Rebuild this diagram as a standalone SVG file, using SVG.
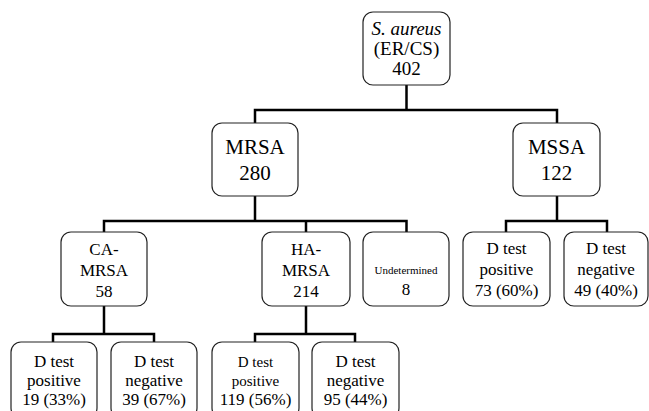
<svg xmlns="http://www.w3.org/2000/svg" width="649" height="411" viewBox="0 0 649 411">
<rect width="649" height="411" fill="#fff"/>
<g id="connectors" stroke="#000" stroke-width="2.5" fill="none">
<path d="M406.5 85V110M255 110H557M255 108.75V123M557 108.75V123"/>
<path d="M255 196V221M104 221H406.5M104 219.75V232M306 219.75V232M406.5 219.75V232"/>
<path d="M557 196V221M506 221H607M506 219.75V232M607 219.75V232"/>
<path d="M104 306V334M53 334H154M53 332.75V342M154 332.75V342"/>
<path d="M306 306V334M255 334H355M255 332.75V342M355 332.75V342"/>
</g>
<g id="root"><rect x="363" y="12" width="87" height="73" rx="10" fill="#fff" stroke="#222" stroke-width="1.2"/>
<text x="406.5" y="35" font-family="Liberation Serif" font-size="19" text-anchor="middle" font-style="italic">S. aureus</text>
<text x="406.5" y="55" font-family="Liberation Serif" font-size="19" text-anchor="middle">(ER/CS)</text>
<text x="406.5" y="75" font-family="Liberation Serif" font-size="19" text-anchor="middle">402</text></g>
<g id="mrsa"><rect x="212" y="123" width="86" height="73" rx="10" fill="#fff" stroke="#222" stroke-width="1.2"/>
<text x="255" y="154" font-family="Liberation Serif" font-size="21" text-anchor="middle">MRSA</text>
<text x="255" y="180" font-family="Liberation Serif" font-size="21" text-anchor="middle">280</text></g>
<g id="mssa"><rect x="513" y="123" width="87" height="73" rx="10" fill="#fff" stroke="#222" stroke-width="1.2"/>
<text x="556.5" y="154" font-family="Liberation Serif" font-size="21" text-anchor="middle">MSSA</text>
<text x="556.5" y="180" font-family="Liberation Serif" font-size="21" text-anchor="middle">122</text></g>
<g id="ca-mrsa"><rect x="61" y="232" width="86" height="74" rx="10" fill="#fff" stroke="#222" stroke-width="1.2"/>
<text x="104" y="255" font-family="Liberation Serif" font-size="17" text-anchor="middle">CA-</text>
<text x="104" y="276" font-family="Liberation Serif" font-size="17" text-anchor="middle">MRSA</text>
<text x="104" y="297" font-family="Liberation Serif" font-size="17" text-anchor="middle">58</text></g>
<g id="ha-mrsa"><rect x="262" y="232" width="88" height="74" rx="10" fill="#fff" stroke="#222" stroke-width="1.2"/>
<text x="306" y="255" font-family="Liberation Serif" font-size="17" text-anchor="middle">HA-</text>
<text x="306" y="276" font-family="Liberation Serif" font-size="17" text-anchor="middle">MRSA</text>
<text x="306" y="297" font-family="Liberation Serif" font-size="17" text-anchor="middle">214</text></g>
<g id="undetermined"><rect x="363" y="232" width="86" height="74" rx="10" fill="#fff" stroke="#222" stroke-width="1.2"/>
<text x="406" y="274" font-family="Liberation Serif" font-size="11" text-anchor="middle">Undetermined</text>
<text x="406" y="295" font-family="Liberation Serif" font-size="17" text-anchor="middle">8</text></g>
<g id="mssa-pos"><rect x="463" y="232" width="87" height="74" rx="10" fill="#fff" stroke="#222" stroke-width="1.2"/>
<text x="506.5" y="254" font-family="Liberation Serif" font-size="17" text-anchor="middle">D test</text>
<text x="506.5" y="275" font-family="Liberation Serif" font-size="17" text-anchor="middle">positive</text>
<text x="506.5" y="296" font-family="Liberation Serif" font-size="17" text-anchor="middle">73 (60%)</text></g>
<g id="mssa-neg"><rect x="564" y="232" width="84" height="74" rx="10" fill="#fff" stroke="#222" stroke-width="1.2"/>
<text x="606" y="254" font-family="Liberation Serif" font-size="17" text-anchor="middle">D test</text>
<text x="606" y="275" font-family="Liberation Serif" font-size="17" text-anchor="middle">negative</text>
<text x="606" y="296" font-family="Liberation Serif" font-size="17" text-anchor="middle">49 (40%)</text></g>
<g id="ca-pos"><rect x="11" y="342" width="86" height="76" rx="10" fill="#fff" stroke="#222" stroke-width="1.2"/>
<text x="54" y="367" font-family="Liberation Serif" font-size="17" text-anchor="middle">D test</text>
<text x="54" y="386" font-family="Liberation Serif" font-size="17" text-anchor="middle">positive</text>
<text x="54" y="405" font-family="Liberation Serif" font-size="17" text-anchor="middle">19 (33%)</text></g>
<g id="ca-neg"><rect x="111" y="342" width="86" height="76" rx="10" fill="#fff" stroke="#222" stroke-width="1.2"/>
<text x="154" y="367" font-family="Liberation Serif" font-size="17" text-anchor="middle">D test</text>
<text x="154" y="386" font-family="Liberation Serif" font-size="17" text-anchor="middle">negative</text>
<text x="154" y="405" font-family="Liberation Serif" font-size="17" text-anchor="middle">39 (67%)</text></g>
<g id="ha-pos"><rect x="212" y="342" width="87" height="76" rx="10" fill="#fff" stroke="#222" stroke-width="1.2"/>
<text x="255.5" y="367" font-family="Liberation Serif" font-size="15" text-anchor="middle">D test</text>
<text x="255.5" y="386" font-family="Liberation Serif" font-size="15" text-anchor="middle">positive</text>
<text x="255.5" y="405" font-family="Liberation Serif" font-size="17" text-anchor="middle">119 (56%)</text></g>
<g id="ha-neg"><rect x="312" y="342" width="87" height="76" rx="10" fill="#fff" stroke="#222" stroke-width="1.2"/>
<text x="355.5" y="367" font-family="Liberation Serif" font-size="17" text-anchor="middle">D test</text>
<text x="355.5" y="386" font-family="Liberation Serif" font-size="17" text-anchor="middle">negative</text>
<text x="355.5" y="405" font-family="Liberation Serif" font-size="17" text-anchor="middle">95 (44%)</text></g>
</svg>
